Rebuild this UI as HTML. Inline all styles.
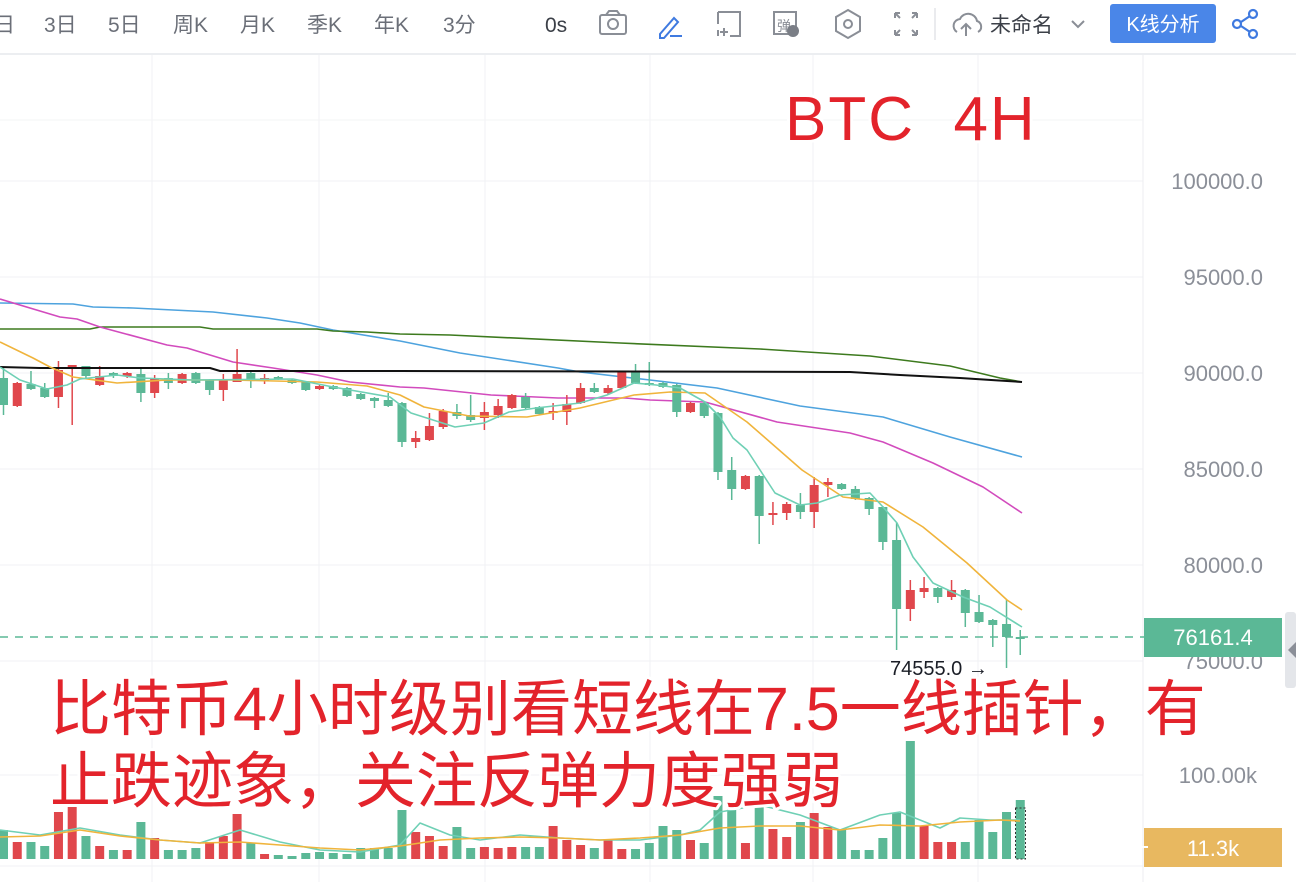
<!DOCTYPE html>
<html><head><meta charset="utf-8">
<style>
html,body{margin:0;padding:0;background:#fff;width:1296px;height:882px;overflow:hidden;}
svg{display:block;font-family:"Liberation Sans","Noto Sans CJK SC",sans-serif;}
</style></head>
<body>
<svg id="s" width="1296" height="882" viewBox="0 0 1296 882" xmlns="http://www.w3.org/2000/svg">
<rect width="1296" height="882" fill="#fff"/>
<g font-size="21" fill="#6b6f78">
<text x="-6" y="32">日</text>
<text x="44" y="32">3日</text>
<text x="108" y="32">5日</text>
<text x="173" y="32">周K</text>
<text x="240" y="32">月K</text>
<text x="307" y="32">季K</text>
<text x="374" y="32">年K</text>
<text x="443" y="32">3分</text>
<text x="545" y="32" fill="#3c4048">0s</text>
<text x="990" y="32" fill="#3c4048">未命名</text>
</g>
<g fill="none" stroke="#8a8e96" stroke-width="2">
<rect x="600" y="15" width="26" height="19" rx="2"/><circle cx="613" cy="24" r="5"/><path d="M606 15 l3-4 h8 l3 4"/>
<path d="M660 34 l14-16 4 4 -14 16 h-4z" stroke="#3f7ae0"/><path d="M670 36 h12" stroke="#3f7ae0"/>
<path d="M718 12 h22 v24 h-10 M718 12 v12 M718 30 v6 M720 32 h8 M724 28 v8"/>
<rect x="774" y="12" width="22" height="22"/>
<path d="M848 10 l12 7 v14 l-12 7 -12-7 v-14z"/><circle cx="848" cy="24" r="4"/>
<path d="M895 13 l5 5 M895 13 h5 M895 13 v5 M917 13 l-5 5 M917 13 h-5 M917 13 v5 M895 35 l5-5 M895 35 h5 M895 35 v-5 M917 35 l-5-5 M917 35 h-5 M917 35 v-5"/>
<path d="M957 32 a7 7 0 0 1 3-13 a9 9 0 0 1 17 2 a6 6 0 0 1 1 11 M966 36 v-12 M961 29 l5-5 5 5"/>
<path d="M1072 21 l6 6 6-6"/>
</g>
<text x="777" y="31" font-size="14" fill="#8a8e96">弹</text>
<circle cx="793" cy="31" r="6" fill="#7a7e86"/>
<line x1="935" y1="8" x2="935" y2="40" stroke="#e2e4e8" stroke-width="1.5"/>
<rect x="1110" y="4" width="106" height="39" rx="3" fill="#4a86e8"/>
<text x="1163" y="31" font-size="20" fill="#fff" text-anchor="middle">K线分析</text>
<g fill="none" stroke="#3f7ae0" stroke-width="2.2"><circle cx="1253" cy="14" r="4"/><circle cx="1253" cy="34" r="4"/><circle cx="1237" cy="24" r="4"/><path d="M1241 22 l9-6 M1241 26 l9 6"/></g>
<line x1="0" y1="54" x2="1296" y2="54" stroke="#eceef1" stroke-width="2"/>
<g stroke="#f1f2f4" stroke-width="1">
<line x1="0" y1="181" x2="1143" y2="181"/><line x1="0" y1="277" x2="1143" y2="277"/><line x1="0" y1="373" x2="1143" y2="373"/><line x1="0" y1="469" x2="1143" y2="469"/><line x1="0" y1="565" x2="1143" y2="565"/><line x1="0" y1="661" x2="1143" y2="661"/><line x1="0" y1="775" x2="1143" y2="775"/><line x1="0" y1="866" x2="1143" y2="866"/>
<line x1="152" y1="55" x2="152" y2="882"/><line x1="319" y1="55" x2="319" y2="882"/><line x1="485" y1="55" x2="485" y2="882"/><line x1="650" y1="55" x2="650" y2="882"/><line x1="813" y1="55" x2="813" y2="882"/><line x1="978" y1="55" x2="978" y2="882"/>
</g>
<line x1="1143" y1="55" x2="1143" y2="882" stroke="#eceef1"/>
<line x1="0" y1="120" x2="1143" y2="120" stroke="#f3f4f6"/>
<g id="chart"></g>
<g font-size="22" fill="#8b8f98" text-anchor="end">
<text x="1263" y="189">100000.0</text><text x="1263" y="285">95000.0</text><text x="1263" y="381">90000.0</text><text x="1263" y="477">85000.0</text><text x="1263" y="573">80000.0</text><text x="1263" y="669">75000.0</text><text x="1257" y="783">100.00k</text>
</g>
<line x1="0" y1="637" x2="1160" y2="637" stroke="#5bb896" stroke-width="1.5" stroke-dasharray="8,7"/>
<rect x="1144" y="618" width="138" height="39" fill="#5bb896"/>
<text x="1213" y="645" font-size="22" fill="#fff" text-anchor="middle">76161.4</text>
<rect x="1285" y="612" width="11" height="76" rx="3" fill="#e4e6ea"/><path d="M1296 642 l-8 8 8 8z" fill="#8b8f98"/>
<rect x="1144" y="828" width="138" height="39" fill="#e8b860"/>
<text x="1213" y="856" font-size="22" fill="#fff" text-anchor="middle">11.3k</text>
<line x1="1140" y1="847" x2="1148" y2="847" stroke="#fff" stroke-width="2"/>
<text x="890" y="675" font-size="20" fill="#1a1d26">74555.0 →</text>
<g font-family="'Liberation Sans','Noto Sans CJK SC',sans-serif" fill="#e3232b" stroke="#fff" stroke-width="6" paint-order="stroke" stroke-linejoin="round">
<text x="785" y="140" font-size="62" letter-spacing="2" xml:space="preserve">BTC  4H</text>
<text x="50" y="730" font-size="61">比特币4小时级别看短线在7.5一线插针，有</text>
<text x="50" y="802" font-size="61">止跌迹象，关注反弹力度强弱</text>
</g>
</svg>
<script>
var C=[
[378,405,367,415,0],[383,406,382,407,1],[384,389,371,390,0],[388,397,383,398,0],[370,397,361,408,1],[365,368,365,425,1],[366,376,366,378,0],[376,385,366,386,1],[373,376,372,378,0],[373,376,372,378,1],
[374,393,367,402,0],[378,393,375,398,1],[378,383,373,389,0],[374,383,373,384,1],[373,383,372,384,0],[380,390,379,395,0],[379,390,374,401,1],[374,382,349,382,1],[373,379,372,388,0],[378,381,374,384,1],
[377,379,376,380,0],[380,383,379,384,0],[382,390,381,391,0],[386,389,385,390,1],[386,389,385,390,0],[388,396,387,397,0],[394,399,393,400,0],[398,401,397,408,0],[400,406,393,407,0],[403,442,402,447,0],
[438,442,431,448,1],[426,440,413,441,1],[411,427,409,429,1],[412,416,404,419,0],[415,420,395,422,0],[412,418,402,430,1],[406,415,399,418,1],[395,408,394,409,1],[397,408,393,409,0],[407,414,406,415,0],
[411,413,403,420,1],[404,412,395,425,1],[388,403,383,404,1],[388,392,383,393,0],[388,393,385,395,1],[372,388,372,389,1],[372,383,364,384,0],[383,385,362,386,0],[383,387,382,388,0],[385,412,384,417,0],
[403,412,402,413,1],[403,416,402,418,0],[413,472,412,480,0],[470,489,457,500,0],[476,489,475,490,1],[476,516,475,544,0],[513,515,502,525,1],[504,513,502,520,1],[505,512,493,519,0],[485,512,477,528,1],
[482,485,478,497,1],[484,489,483,490,0],[489,499,486,500,0],[498,509,497,515,0],[507,542,506,550,0],[540,609,523,650,0],[590,609,580,621,1],[588,592,577,598,1],[588,597,587,603,0],[590,597,580,600,1],
[590,613,589,627,0],[612,622,595,623,0],[620,625,619,647,0],[624,637,600,668,0],[637,639,630,655,0]];
var V=[830,842,842,846,812,807,836,846,850,850,822,838,850,850,848,842,836,814,843,854,855,856,853,852,853,854,848,848,848,810,832,836,846,827,848,847,848,847,847,847,826,840,845,848,839,849,849,843,826,830,840,843,796,807,843,806,829,837,822,813,827,830,850,850,838,813,741,826,842,842,842,820,832,812,800];
var VC=[0,1,0,0,1,1,0,1,0,1,0,1,0,0,0,1,1,1,0,1,0,0,0,0,0,0,0,0,0,0,1,1,1,0,0,1,1,1,0,0,1,1,1,0,1,1,0,0,0,0,1,0,0,0,1,0,1,1,0,1,1,0,0,0,0,0,0,1,1,1,0,0,0,0,0];
var G='#5bb896',R='#e0474c',o='';
function X(i){return 3.5+i*13.74;}
for(var i=0;i<V.length;i++){var x=X(i);o+='<rect x="'+(x-4.5)+'" y="'+V[i]+'" width="9" height="'+(859-V[i])+'" fill="'+(VC[i]?R:G)+'"/>';}
o+='<rect x="1015.5" y="808" width="10" height="51" fill="none" stroke="#333" stroke-dasharray="2,2" stroke-width="1"/>';
function L(p,c,w){return '<polyline fill="none" stroke="'+c+'" stroke-width="'+(w||1.6)+'" stroke-linejoin="round" points="'+p+'"/>';}
o+=L('0,830 40,835 80,828 120,835 160,840 200,843 240,830 280,842 320,850 360,852 400,845 420,823 450,835 480,840 520,835 560,838 600,840 640,840 680,835 700,830 720,812 760,805 800,815 840,830 880,815 900,812 940,828 960,818 990,820 1020,820','#6fd0b5');
o+=L('0,837 40,836 80,830 120,836 160,840 200,843 240,842 280,845 320,848 360,850 400,846 440,840 480,838 520,837 560,838 600,840 640,838 680,835 720,828 760,826 800,826 840,830 880,825 920,826 960,822 1000,820 1020,821','#f0b43c');
o+=L('0,303 73,304 93,307 133,308 213,312 267,318 300,323 333,330 400,341 460,353 558,368 580,372 650,380 717,388 800,406 883,417 950,437 1022,457','#4ea3de');
o+=L('0,329 90,329 100,327 200,327 213,329 317,329 333,331 367,332 400,334 450,335 620,343 760,349 870,356 950,366 1000,378 1022,382','#3d7a1e');
o+=L('0,299 60,317 77,319 100,327 167,345 187,348 233,362 273,368 317,375 350,382 400,387 424,388 491,395 558,398 625,398 650,400 705,402 777,422 850,433 883,442 933,463 983,487 1022,513','#d24bbd');
for(var i=0;i<C.length;i++){var c=C[i],x=X(i),col=c[4]?R:G;
o+='<line x1="'+x+'" y1="'+c[2]+'" x2="'+x+'" y2="'+c[3]+'" stroke="'+col+'" stroke-width="1.5"/>';
o+='<rect x="'+(x-4.5)+'" y="'+c[0]+'" width="9" height="'+Math.max(2,c[1]-c[0])+'" fill="'+col+'"/>';}
o+=L('0,367 40,368 210,368 220,371 400,371 850,372 900,375 960,378 1022,382','#111',2);
o+=L('0,342 33,358 50,367 73,377 117,383 167,380 233,380 317,382 367,386 400,395 424,407 469,416 527,417 580,408 634,395 670,392 705,393 747,422 802,470 843,497 883,502 923,527 967,563 1007,600 1022,610','#f0b43c');
o+=L('0,367 20,380 47,389 67,385 80,379 117,375 140,378 193,380 293,379 333,387 390,397 411,413 455,427 484,423 509,412 536,408 580,403 607,395 634,383 656,385 680,388 705,402 720,417 733,438 747,450 775,493 800,505 817,503 840,495 870,493 883,507 897,523 913,557 933,583 963,597 990,607 1022,627','#6fd0b5');
document.getElementById('chart').innerHTML=o;
</script>
</body></html>
